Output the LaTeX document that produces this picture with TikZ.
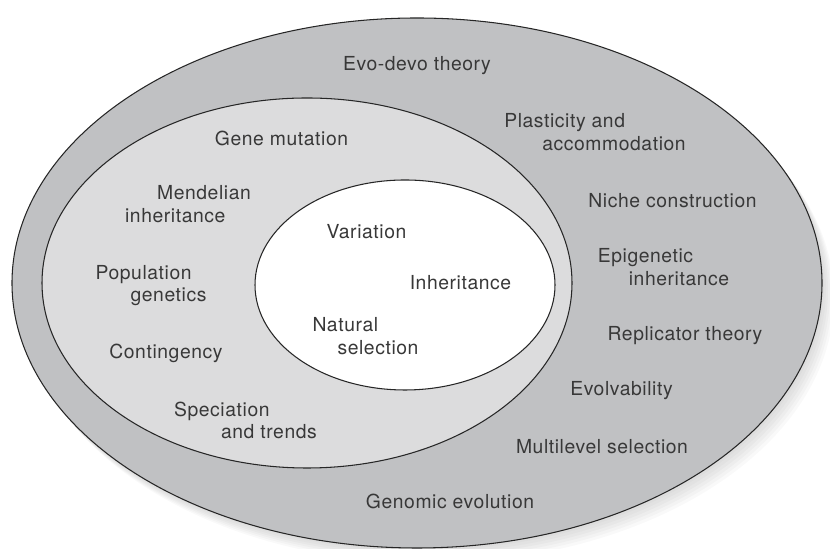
\documentclass[tikz,border=0pt]{standalone}
\usepackage{fontspec}
\setmainfont[LetterSpace=3]{TeX Gyre Heros}
\definecolor{outergray}{HTML}{C0C1C3}
\definecolor{midgray}{HTML}{DCDCDD}
\definecolor{labelgray}{HTML}{383838}
\tikzset{
	ring/.style={draw=black!85,line width=0.6pt},
	lbl/.style={text=labelgray,font=\fontsize{11}{13}\selectfont,inner sep=0pt},
	lbl2/.style={lbl,align=left}
}
\begin{document}
\begin{tikzpicture}
		\useasboundingbox (0,0) rectangle (16.6,10.98);
	
		% soft shadow
		\foreach \d in {1,...,6}
			\fill[black,opacity=0.025] ({8.34+0.04*\d},{5.32-0.05*\d}) ellipse (8.10 and 5.30);
		\foreach \d in {1,...,4}
			\fill[black,opacity=0.03] ({6.14+0.04*\d},{5.32-0.05*\d}) ellipse (5.30 and 3.70);
		
		\draw[ring,fill=outergray] (8.34,5.32) ellipse (8.10 and 5.30);
		\draw[ring,fill=midgray] (6.14,5.32) ellipse (5.30 and 3.70);
		\draw[ring,fill=white] (8.10,5.28) ellipse (3.00 and 2.10);
		
		% core
		\node[lbl] (variation) at (7.33,6.34){Variation};
		\node[lbl] (inherit) at (9.21,5.32){Inheritance};
		\node[lbl2] (natsel) at (7.31,4.26){Natural\\\hspace*{0.5cm}selection};
		
		% middle ring
		\node[lbl] (genemut) at (5.63,8.22){Gene mutation};
		\node[lbl2] (mendel) at (3.76,6.89){\hspace*{0.64cm}Mendelian\\inheritance};
		\node[lbl2] (popgen) at (3.02,5.27){Population\\\hspace*{0.7cm}genetics};
		\node[lbl] (conting) at (3.32,3.92){Contingency};
		\node[lbl2] (speciat) at (4.91,2.57){Speciation\\\hspace*{0.94cm}and trends};
		
		% outer ring
		\node[lbl] (evodevo) at (8.34,9.66){Evo-devo theory};
		\node[lbl2] (plastic) at (11.90,8.33){Plasticity and\\\hspace*{0.76cm}accommodation};
		\node[lbl] (niche) at (13.45,6.96){Niche construction};
		\node[lbl2] (epigen) at (13.27,5.63){Epigenetic\\\hspace*{0.62cm}inheritance};
		\node[lbl] (replic) at (13.70,4.26){Replicator theory};
		\node[lbl] (evolvab) at (12.43,3.16){Evolvability};
		\node[lbl] (multilev) at (12.04,2.04){Multilevel selection};
		\node[lbl] (genomic) at (9.00,0.96){Genomic evolution};
	\end{tikzpicture}
\end{document}
